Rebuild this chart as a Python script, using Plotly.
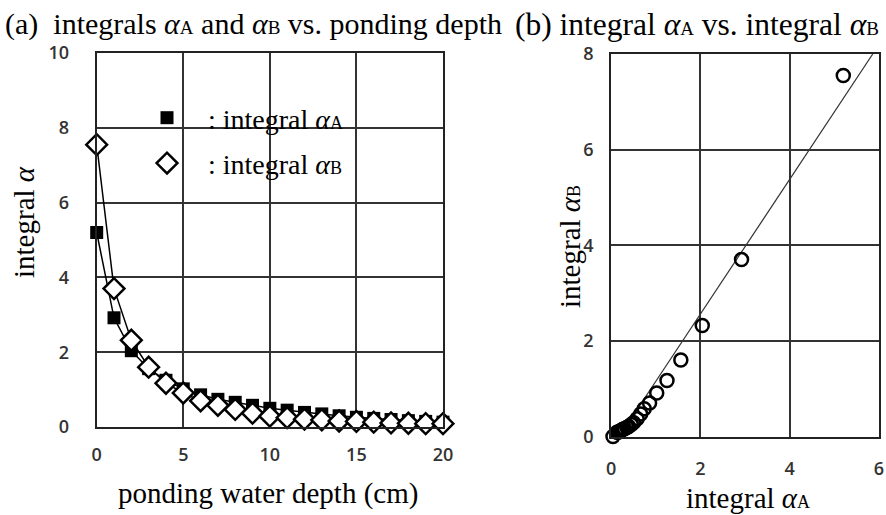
import plotly.graph_objects as go

# ponding water depth (cm)
depth = list(range(0, 21))
# integral alpha_A and alpha_B at each ponding depth
alpha_a = [5.20, 2.92, 2.04, 1.56, 1.25, 1.02, 0.86, 0.74, 0.66, 0.58, 0.50,
           0.45, 0.39, 0.35, 0.30, 0.26, 0.23, 0.20, 0.17, 0.15, 0.13]
alpha_b = [7.55, 3.70, 2.32, 1.60, 1.17, 0.91, 0.70, 0.58, 0.47, 0.37, 0.29,
           0.25, 0.21, 0.19, 0.16, 0.15, 0.13, 0.11, 0.10, 0.09, 0.09]
# alpha_A / alpha_B pairs, plus the pair closest to the origin
pair_a = alpha_a + [0.04]
pair_b = alpha_b + [0.0]
# fitted trend line of alpha_B against alpha_A
fit_a = [0.18, 5.86]
fit_b = [0.0, 8.0]

x_ticks_a = [0, 5, 10, 15, 20]
y_ticks_a = [0, 2, 4, 6, 8, 10]
x_ticks_b = [0, 2, 4, 6]
y_ticks_b = [0, 2, 4, 6, 8]

W, H = 886, 515
SERIF = "Liberation Serif"
NB = "\u00a0"


def px(x):
    return x / W


def py(y):
    return 1 - y / H


def sub(letter, size=18):
    return f"<i>α</i><span style='font-size:{size}px'>{letter}</span>"


fig = go.Figure()

# connecting lines of the depth profiles
for vals in (alpha_a, alpha_b):
    fig.add_trace(go.Scatter(
        x=depth, y=vals, mode="lines", showlegend=False,
        line=dict(color="black", width=1.5), xaxis="x", yaxis="y",
    ))

fig.add_trace(go.Scatter(
    x=depth, y=alpha_a, mode="markers",
    name=f"{NB * 3}: integral {sub('A')}{NB * 8}",
    marker=dict(symbol="square", size=13, color="black"),
    cliponaxis=False, xaxis="x", yaxis="y", legendgroup="a",
))
fig.add_trace(go.Scatter(
    x=depth, y=alpha_b, mode="markers",
    name=f"{NB * 3}: integral {sub('B')}",
    marker=dict(symbol="diamond", size=16, color="white",
                line=dict(color="black", width=2.5)),
    cliponaxis=False, xaxis="x", yaxis="y", legendgroup="b",
))
fig.add_trace(go.Scatter(
    x=fit_a, y=fit_b, mode="lines", showlegend=False,
    line=dict(color="#333", width=1.2), xaxis="x2", yaxis="y2",
))
fig.add_trace(go.Scatter(
    x=pair_a, y=pair_b, mode="markers", showlegend=False,
    marker=dict(symbol="circle-open", size=13, color="black",
                line=dict(color="black", width=2.5)),
    cliponaxis=False, xaxis="x2", yaxis="y2",
))

tickfont = dict(family="Open Sans", size=18, color="#333", weight=600)
common = dict(showgrid=True, gridcolor="#333", gridwidth=1.5, zeroline=False,
              showline=True, linecolor="#222", linewidth=2, mirror=True,
              ticks="", tickfont=tickfont, automargin=False)

fig.update_layout(
    width=W, height=H,
    margin=dict(l=0, r=0, t=0, b=0, pad=0, autoexpand=False),
    paper_bgcolor="white", plot_bgcolor="white",
    xaxis=dict(domain=[px(96.7), px(443)], range=[0, 20], tickvals=x_ticks_a,
               anchor="y", ticklabelstandoff=10, **common),
    yaxis=dict(domain=[py(427), py(53)], range=[0, 10], tickvals=y_ticks_a,
               anchor="x", ticklabelstandoff=22, **common),
    xaxis2=dict(domain=[px(611.2), px(879)], range=[0, 6], tickvals=x_ticks_b,
                anchor="y2", ticklabelstandoff=15, **common),
    yaxis2=dict(domain=[py(436.5), py(54)], range=[0, 8], tickvals=y_ticks_b,
                anchor="x2", ticklabelstandoff=12, **common),
    showlegend=True,
    legend=dict(x=px(147), y=py(93), xanchor="left", yanchor="top",
                bgcolor="rgba(0,0,0,0)", borderwidth=0,
                font=dict(family=SERIF, size=28, color="black"),
                tracegroupgap=6, itemsizing="trace"),
    shapes=[dict(type="rect", xref="paper", yref="paper",
                 x0=px(138), x1=px(423), y0=py(182), y1=py(90),
                 fillcolor="white", line=dict(width=0), layer="between")],
)

axis_font = dict(family=SERIF, size=29, color="black")
annotations = [
    dict(text=f"(a){NB * 2}integrals {sub('A', 19)} and {sub('B', 19)} vs. ponding depth",
         x=px(3), y=py(24), xanchor="left", yanchor="middle",
         font=dict(family=SERIF, size=30, color="black")),
    dict(text=f"(b) integral {sub('A', 19)} vs. integral {sub('B', 19)}",
         x=px(513), y=py(24), xanchor="left", yanchor="middle",
         font=dict(family=SERIF, size=31.5, color="black")),
    dict(text="ponding water depth (cm)", x=px(268), y=py(493),
         xanchor="center", yanchor="middle", font=axis_font),
    dict(text="integral <i>α</i>", x=px(24), y=py(222), textangle=-90,
         xanchor="center", yanchor="middle", font=axis_font),
    dict(text=f"integral {sub('A')}", x=px(748), y=py(498),
         xanchor="center", yanchor="middle", font=axis_font),
    dict(text=f"integral {sub('B')}", x=px(570), y=py(247), textangle=-90,
         xanchor="center", yanchor="middle", font=axis_font),
]
for a in annotations:
    a.update(xref="paper", yref="paper", showarrow=False)
fig.update_layout(annotations=annotations)

fig.write_html("out.html")
